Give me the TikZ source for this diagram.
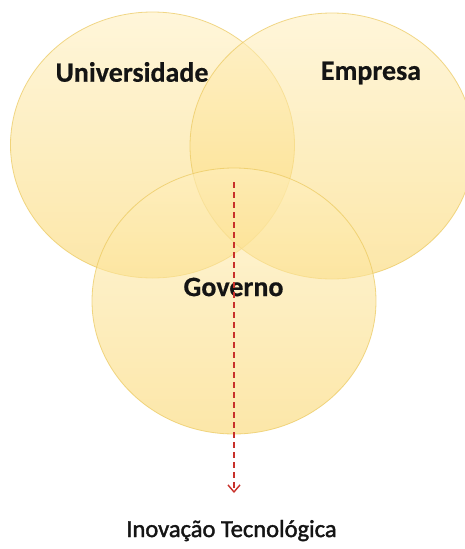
\documentclass[tikz,border=0pt]{standalone}
\usepackage{fontspec}
\setmainfont{Carlito}[BoldFeatures={FakeBold=0.5}]
\newfontfamily\medfont{Carlito}[FakeBold=1.6]
\usetikzlibrary{shapes.geometric,arrows.meta}
\definecolor{circtop}{HTML}{FFF0C0}
\definecolor{circbot}{HTML}{FBD66A}
\definecolor{circline}{HTML}{EBC85C}
\definecolor{arrowred}{HTML}{C8302A}
\tikzset{
  venn/.style={ellipse, minimum width=284pt, minimum height=266pt, inner sep=0pt,
    top color=circtop, bottom color=circbot, fill opacity=0.58,
    draw=circline, draw opacity=0.7, line width=0.8pt},
  label/.style={font=\fontsize{28}{32}\selectfont\bfseries, text=black!92, inner sep=0pt},
  outlabel/.style={font=\fontsize{24.5}{30}\medfont, text=black!92, inner sep=0pt},
  flow/.style={draw=arrowred, line width=1.5pt, dash pattern=on 6pt off 4pt,
    -{Straight Barb[length=7pt,width=12pt,line width=1.4pt]}}
}
\begin{document}
\begin{tikzpicture}[x=1pt,y=-1pt]
\useasboundingbox (0,0) rectangle (464,549);
\fill[white] (0,0) rectangle (464,549);
\node[venn] (univ) at (152.5,145) {};
\node[venn] (emp) at (332,146) {};
\node[venn] (gov) at (234,301) {};
\node[label] (tuniv) at (132,72) {Universidade};
\node[label] (temp) at (371,73) {Empresa};
\node[label] (tgov) at (233.5,287) {Governo};
\node[outlabel, anchor=base] (inov) at (231.5,537) {Inovação Tecnológica};
\coordinate (start) at (234,182);
\coordinate (stop) at (234,493);
\draw[flow] (start) -- (stop);
\end{tikzpicture}
\end{document}
